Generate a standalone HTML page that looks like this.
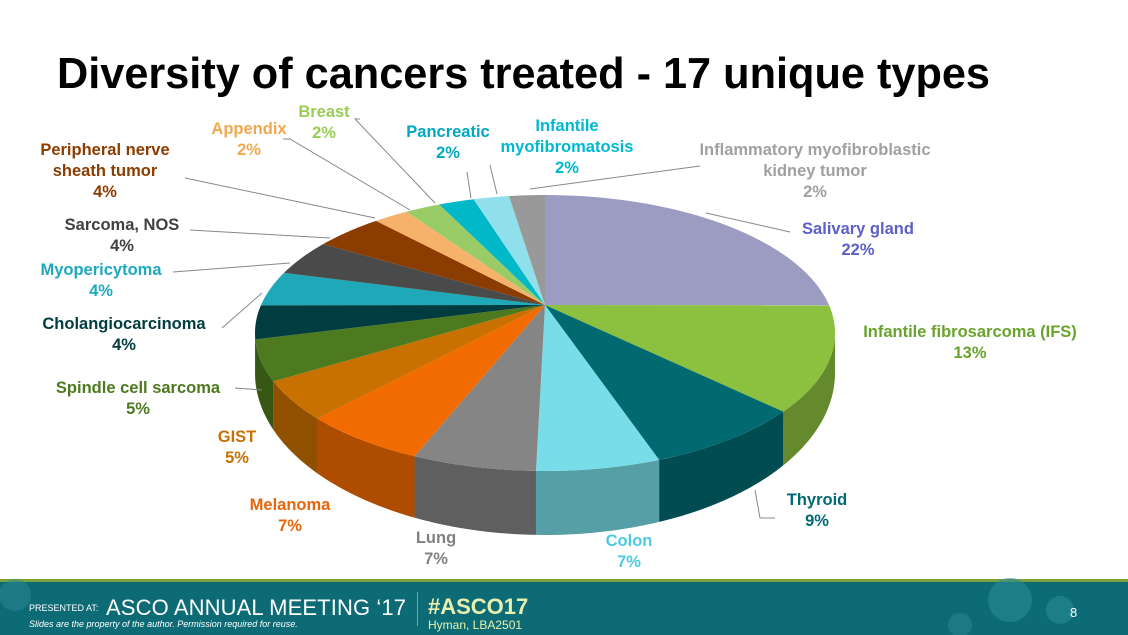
<!DOCTYPE html>
<html><head><meta charset="utf-8"><style>
body{margin:0;width:1128px;height:635px;overflow:hidden;background:#fff;font-family:"Liberation Sans",Arial,sans-serif}
svg{position:absolute;left:0;top:0}
</style></head><body>
<svg id="chart" width="1128" height="635">
<text x="57" y="88" font-size="44" font-weight="bold" fill="#000" textLength="933" lengthAdjust="spacingAndGlyphs">Diversity of cancers treated - 17 unique types</text>
<g id="sides"></g><g id="tops"></g><g id="leaders"></g><g id="labels"></g>
<g>
<rect x="0" y="579" width="1128" height="3" fill="#7aa23c"/>
<rect x="0" y="582" width="1128" height="53" fill="#0d6b76"/>
<circle cx="1010" cy="600" r="22" fill="#2a8a92" opacity="0.6"/><circle cx="1060" cy="610" r="14" fill="#2a8a92" opacity="0.6"/><circle cx="960" cy="625" r="12" fill="#2a8a92" opacity="0.5"/><circle cx="15" cy="595" r="16" fill="#2a8a92" opacity="0.5"/>
<text x="29" y="611" font-size="9" fill="#fff">PRESENTED AT:</text>
<text x="106" y="615" font-size="22" fill="#fff" textLength="300">ASCO ANNUAL MEETING ‘17</text>
<text x="29" y="627" font-size="9" font-style="italic" fill="#fff">Slides are the property of the author. Permission required for reuse.</text>
<rect x="417" y="592" width="1" height="34" fill="#6aa"/>
<text x="428" y="614" font-size="22" font-weight="bold" fill="#e8f0b0">#ASCO17</text>
<text x="428" y="629" font-size="12" fill="#e8f0b0">Hyman, LBA2501</text>
<text x="1070" y="617" font-size="13" fill="#fff">8</text>
</g>
</svg>
<script>
const categories=["Salivary gland","Infantile fibrosarcoma (IFS)","Thyroid","Colon","Lung","Melanoma","GIST","Spindle cell sarcoma","Cholangiocarcinoma","Myopericytoma","Sarcoma, NOS","Peripheral nerve sheath tumor","Appendix","Breast","Pancreatic","Infantile myofibromatosis","Inflammatory myofibroblastic kidney tumor"];
const values=[22,13,9,7,7,7,5,5,4,4,4,4,2,2,2,2,2];
const printed=["22%","13%","9%","7%","7%","7%","5%","5%","4%","4%","4%","4%","2%","2%","2%","2%","2%"];
const colors=["#9c9cc2","#8bc13f","#006a70","#79dde9","#858585","#f26b00","#c87000","#4d7a1e","#003c40","#1fa8b8","#4a4a4a","#8b3c00","#f6b26b","#99cc66","#00b8c8","#8fe0ea","#999999"];
const labelColors=["#5b5fc7","#6aa32c","#006a70","#4dcbe0","#808080","#e8650a","#c87000","#4d7a1e","#003c40","#1fa8c0","#404040","#8b3c00","#f0a850","#99cc55","#00a8c0","#00b8d0","#a0a0a0"];
const NS="http://www.w3.org/2000/svg";
const cx=545,cy=333,rx=290,ry=138,ax=545,ay=305;
const total=values.reduce((a,b)=>a+b,0);
function rim(t){return [cx+rx*Math.sin(t),cy-ry*Math.cos(t)];}
function depth(t){return 40+24*Math.max(0,-Math.cos(t));}
function shade(hex,f){const n=parseInt(hex.slice(1),16);const r=(n>>16)*f,g=((n>>8)&255)*f,b=(n&255)*f;return `rgb(${r|0},${g|0},${b|0})`;}
const sides=document.getElementById('sides'),tops=document.getElementById('tops');
let acc=0;
values.forEach((v,i)=>{
 const a1=acc/total*2*Math.PI;acc+=v;const a2=acc/total*2*Math.PI;
 const s1=Math.max(a1,Math.PI/2),s2=Math.min(a2,Math.PI*1.5);
 if(s2>s1){let top=[],bot=[];const n=24;
  for(let k=0;k<=n;k++){const t=s1+(s2-s1)*k/n;const p=rim(t);top.push(p);bot.push([p[0],p[1]+depth(t)]);}
  const pts=top.concat(bot.reverse()).map(p=>p.join(',')).join(' ');
  const sp=document.createElementNS(NS,'polygon');sp.setAttribute('points',pts);sp.setAttribute('fill',shade(colors[i],0.72));
  
  
  sides.appendChild(sp);}
 let pts=[[ax,ay]];const n=40;
 for(let k=0;k<=n;k++)pts.push(rim(a1+(a2-a1)*k/n));
 const pg=document.createElementNS(NS,'polygon');pg.setAttribute('points',pts.map(p=>p.join(',')).join(' '));pg.setAttribute('fill',colors[i]);
 
 
 tops.appendChild(pg);
});
const labelPos=[[858,234,'middle',null,[[706,213],[790,232]]],[970,337,'middle',null,null],[817,505,'middle',null,[[755,490],[760,518],[775,518]]],[629,546,'middle',null,null],[436,543,'middle',null,null],[290,510,'middle',null,null],[237,442,'middle',null,null],[138,393,'middle',null,[[262,390],[235,388]]],[124,329,'middle',null,[[262,293],[222,328]]],[101,275,'middle',null,[[290,263],[173,272]]],[122,230,'middle',null,[[330,238],[190,230]]],[105,155,'middle',["Peripheral nerve","sheath tumor"],[[375,218],[185,178]]],[249,134,'middle',null,[[410,210],[290,139],[283,139]]],[324,117,'middle',null,[[435,203],[355,119],[360,119]]],[448,137,'middle',null,[[471,198],[467,172]]],[567,131,'middle',["Infantile","myofibromatosis"],[[497,194],[490,165]]],[815,155,'middle',["Inflammatory myofibroblastic","kidney tumor"],[[530,189],[700,166]]]];
const L=document.getElementById('leaders'),G=document.getElementById('labels');
labelPos.forEach((lp,i)=>{
 const lines=(lp[3]||[categories[i]]).concat([printed[i]]);
 const t=document.createElementNS(NS,'text');t.setAttribute('text-anchor',lp[2]);t.setAttribute('font-size','16.5');t.setAttribute('font-weight','bold');t.setAttribute('fill',labelColors[i]);
 
 
 lines.forEach((s,k)=>{const ts=document.createElementNS(NS,'tspan');ts.setAttribute('x',lp[0]);ts.setAttribute('y',lp[1]+k*21);ts.textContent=s;t.appendChild(ts);});
 G.appendChild(t);
 if(lp[4]){const pl=document.createElementNS(NS,'polyline');pl.setAttribute('points',lp[4].map(p=>p.join(',')).join(' '));pl.setAttribute('fill','none');pl.setAttribute('stroke','#888');pl.setAttribute('stroke-width','1');
  
  
  L.appendChild(pl);}
});
</script>
</body></html>
